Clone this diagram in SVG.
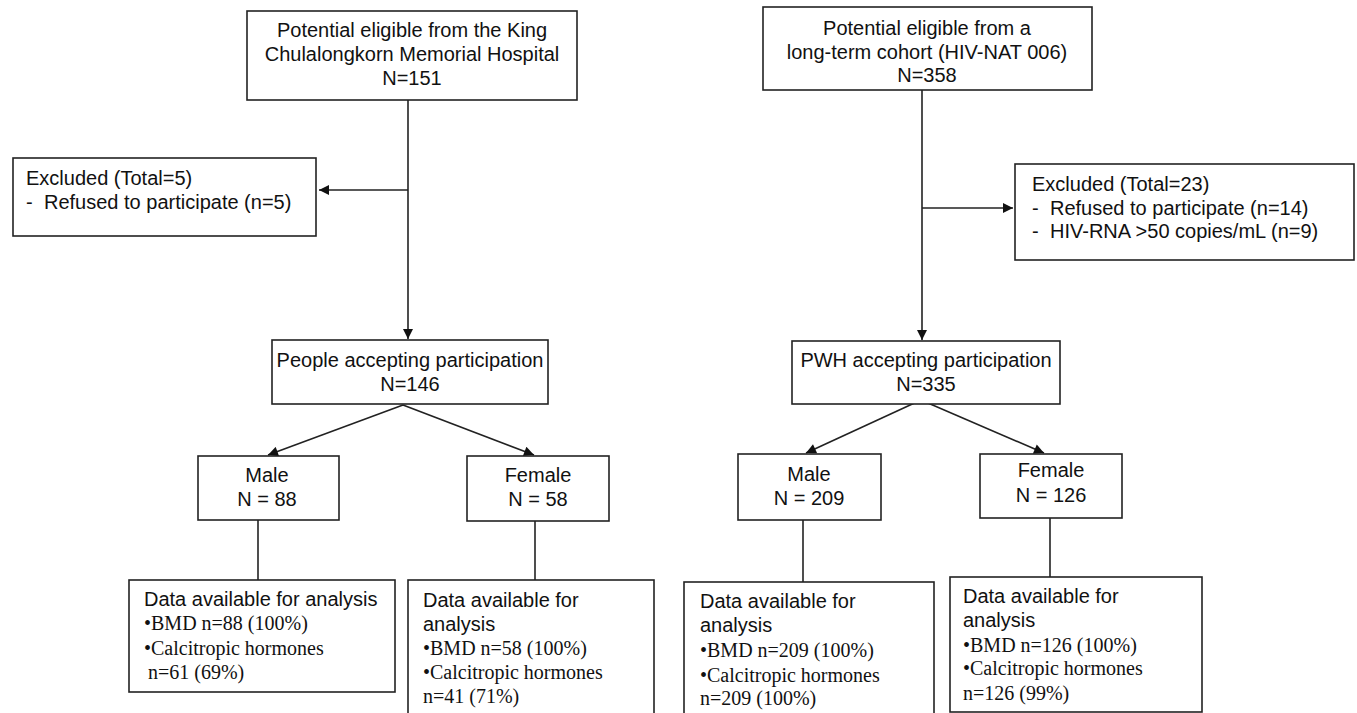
<svg xmlns="http://www.w3.org/2000/svg" width="1357" height="713" viewBox="0 0 1357 713">
<style>
.box{fill:#fff;stroke:#222;stroke-width:1.6}
.t{font-family:"Liberation Sans",Arial,sans-serif;font-size:20px;fill:#111}
.c{text-anchor:middle}
.s{font-family:"Liberation Serif","Times New Roman",serif;font-size:20px;fill:#111}
.ln{fill:none;stroke:#222;stroke-width:1.6}
</style>
<defs>
<marker id="ah" viewBox="0 0 10 10" refX="10" refY="5" markerWidth="12" markerHeight="10" markerUnits="userSpaceOnUse" orient="auto">
<path d="M0,0 L10,5 L0,10 z" fill="#111"/>
</marker>
</defs>
<rect width="1357" height="713" fill="#fff"/>

<g id="connectors">
<line class="ln" x1="408" y1="100" x2="408" y2="339" marker-end="url(#ah)"/>
<line class="ln" x1="408" y1="190" x2="319" y2="190" marker-end="url(#ah)"/>
<line class="ln" x1="403" y1="405" x2="268" y2="455" marker-end="url(#ah)"/>
<line class="ln" x1="403" y1="405" x2="534" y2="455" marker-end="url(#ah)"/>
<line class="ln" x1="258" y1="520" x2="258" y2="580"/>
<line class="ln" x1="535" y1="521" x2="535" y2="580"/>
<line class="ln" x1="922" y1="90" x2="922" y2="340" marker-end="url(#ah)"/>
<line class="ln" x1="922" y1="208" x2="1013" y2="208" marker-end="url(#ah)"/>
<line class="ln" x1="921" y1="400" x2="806" y2="453" marker-end="url(#ah)"/>
<line class="ln" x1="921" y1="400" x2="1044" y2="453" marker-end="url(#ah)"/>
<line class="ln" x1="803" y1="520" x2="803" y2="582"/>
<line class="ln" x1="1050" y1="518" x2="1050" y2="577"/>
</g>

<g id="hospital">
<rect class="box" x="247" y="11" width="330" height="89"/>
<text class="t c" x="412" y="37">Potential eligible from the King</text>
<text class="t c" x="412" y="61">Chulalongkorn Memorial Hospital</text>
<text class="t c" x="412" y="85">N=151</text>
</g>

<g id="excluded-left">
<rect class="box" x="13" y="158" width="303" height="78"/>
<text class="t" x="26" y="185">Excluded (Total=5)</text>
<text class="t" x="26" y="209">-</text>
<text class="t" x="44" y="209">Refused to participate (n=5)</text>
</g>

<g id="people-accepting">
<rect class="box" x="272" y="340" width="276" height="64"/>
<text class="t c" x="410" y="367">People accepting participation</text>
<text class="t c" x="410" y="391">N=146</text>
</g>

<g id="male-left">
<rect class="box" x="198" y="456" width="141" height="64"/>
<text class="t c" x="267" y="482">Male</text>
<text class="t c" x="267" y="506">N = 88</text>
</g>

<g id="female-left">
<rect class="box" x="467" y="456" width="142" height="65"/>
<text class="t c" x="538" y="482">Female</text>
<text class="t c" x="538" y="506">N = 58</text>
</g>

<g id="data-male-left">
<rect class="box" x="129" y="580" width="266" height="112"/>
<text class="t" x="144" y="606">Data available for analysis</text>
<text class="s" x="144" y="630">•BMD n=88 (100%)</text>
<text class="s" x="144" y="655">•Calcitropic hormones</text>
<text class="s" x="148" y="679">n=61 (69%)</text>
</g>

<g id="data-female-left">
<rect class="box" x="408" y="580" width="246" height="140"/>
<text class="t" x="423" y="607">Data available for</text>
<text class="t" x="423" y="631">analysis</text>
<text class="s" x="423" y="655">•BMD n=58 (100%)</text>
<text class="s" x="423" y="679">•Calcitropic hormones</text>
<text class="s" x="423" y="703">n=41 (71%)</text>
</g>

<g id="cohort">
<rect class="box" x="763" y="7" width="329" height="83"/>
<text class="t c" x="927" y="35">Potential eligible from a</text>
<text class="t c" x="927" y="59">long-term cohort (HIV-NAT 006)</text>
<text class="t c" x="927" y="82">N=358</text>
</g>

<g id="excluded-right">
<rect class="box" x="1015" y="164" width="339" height="96"/>
<text class="t" x="1032" y="191">Excluded (Total=23)</text>
<text class="t" x="1032" y="215">-</text>
<text class="t" x="1050" y="215">Refused to participate (n=14)</text>
<text class="t" x="1032" y="238">-</text>
<text class="t" x="1050" y="238">HIV-RNA &gt;50 copies/mL (n=9)</text>
</g>

<g id="pwh-accepting">
<rect class="box" x="792" y="341" width="268" height="63"/>
<text class="t c" x="926" y="367">PWH accepting participation</text>
<text class="t c" x="926" y="391">N=335</text>
</g>

<g id="male-right">
<rect class="box" x="738" y="454" width="143" height="66"/>
<text class="t c" x="809" y="481">Male</text>
<text class="t c" x="809" y="505">N = 209</text>
</g>

<g id="female-right">
<rect class="box" x="980" y="454" width="142" height="64"/>
<text class="t c" x="1051" y="477">Female</text>
<text class="t c" x="1051" y="502">N = 126</text>
</g>

<g id="data-male-right">
<rect class="box" x="684" y="582" width="250" height="140"/>
<text class="t" x="700" y="608">Data available for</text>
<text class="t" x="700" y="632">analysis</text>
<text class="s" x="700" y="657">•BMD n=209 (100%)</text>
<text class="s" x="700" y="682">•Calcitropic hormones</text>
<text class="s" x="700" y="705">n=209 (100%)</text>
</g>

<g id="data-female-right">
<rect class="box" x="950" y="577" width="252" height="135"/>
<text class="t" x="963" y="603">Data available for</text>
<text class="t" x="963" y="627">analysis</text>
<text class="s" x="963" y="652">•BMD n=126 (100%)</text>
<text class="s" x="963" y="675">•Calcitropic hormones</text>
<text class="s" x="963" y="700">n=126 (99%)</text>
</g>
</svg>
